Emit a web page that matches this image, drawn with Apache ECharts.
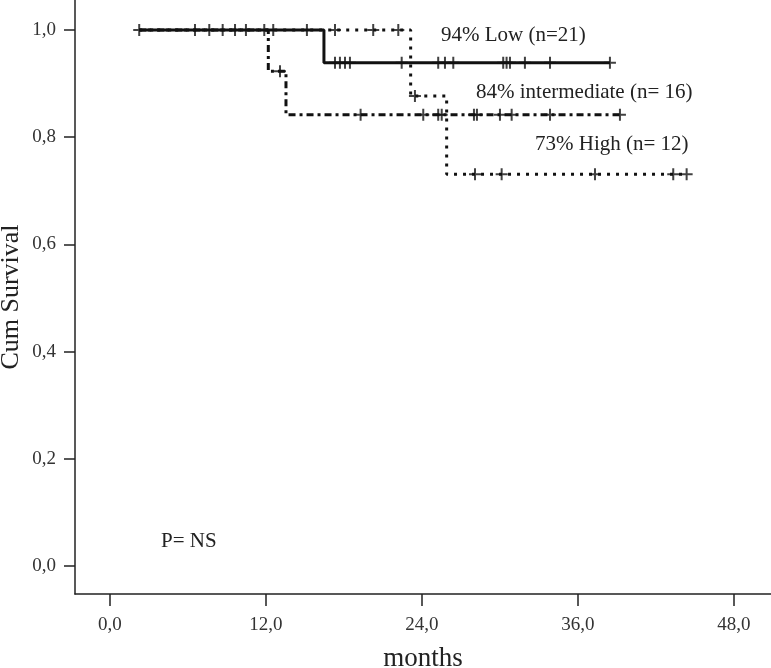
<!DOCTYPE html>
<html>
<head>
<meta charset="utf-8">
<script src="https://cdn.jsdelivr.net/npm/echarts@6/dist/echarts.min.js"></script>
<style>
  html, body { margin: 0; padding: 0; background: #fff; }
  #chart { width: 771px; height: 668px; }
</style>
</head>
<body>
<div id="chart"></div>
<script>
// Kaplan-Meier curves (months / cum survival)
const xTicks = [0, 12, 24, 36, 48]
const yTicks = [0, 0.2, 0.4, 0.6, 0.8, 1.0]

const lowStart = 2.25
const lowEnd = 38.46
const lowDrops = [16.46]
const lowLevels = [1, 0.939]
const lowCensored = [2.25, 6.54, 7.64, 8.67, 9.62, 10.46, 11.87, 12.56, 15.15,
  17.31, 17.69, 18.08, 18.46, 22.44, 25.25, 25.77, 26.41, 30.25, 30.51, 30.77, 31.92, 33.85, 38.46]

const midStart = 2.25
const midEnd = 39.23
const midDrops = [12.18, 13.54]
const midLevels = [1, 0.923, 0.842]
const midCensored = [13.08, 19.28, 24.1, 25.25, 25.52, 28.0, 28.23, 30.0, 30.9, 33.85, 39.23]

const highStart = 2.25
const highEnd = 44.36
const highDrops = [23.13, 25.9]
const highLevels = [1, 0.877, 0.731]
const highCensored = [17.31, 20.25, 22.18, 23.46, 28.08, 30.13, 37.31, 43.33, 44.36]

const notes = [
  { text: '94% Low (n=21)', x: 441, y: 36 },
  { text: '84% intermediate (n= 16)', x: 476, y: 93 },
  { text: '73% High (n= 12)', x: 535, y: 145 },
  { text: 'P= NS', x: 161, y: 542 }
]

const serif = "'Liberation Serif', 'DejaVu Serif', serif"
const plus = 'path://M10,0h4v24h-4zM0,10h24v4h-24z'

function stepLine(start, end, drops, levels) {
  const pts = [[start, levels[0]]]
  drops.forEach((t, i) => {
    pts.push([t, levels[i]])
    pts.push([t, levels[i + 1]])
  })
  pts.push([end, levels[levels.length - 1]])
  return pts
}

function censorPoints(times, drops, levels) {
  return times.map(t => {
    let k = 0
    drops.forEach(d => { if (d <= t) k++ })
    return [t, levels[k]]
  })
}

function commaFmt(v) {
  return v.toFixed(1).replace('.', ',')
}

const chart = echarts.init(document.getElementById('chart'))

chart.setOption({
  animation: false,
  backgroundColor: '#fff',
  grid: {
    left: 75,
    right: 0,
    top: 0,
    bottom: 74,
    containLabel: false,
    outerBoundsMode: 'none'
  },
  xAxis: {
    type: 'value',
    min: -2.69,
    max: 50.85,
    name: 'months',
    nameLocation: 'middle',
    nameGap: 51,
    nameMoveOverlap: false,
    nameTextStyle: { fontFamily: serif, fontSize: 27, color: '#222' },
    splitLine: { show: false },
    axisLine: { onZero: false, lineStyle: { color: '#222', width: 1.5 } },
    axisTick: { customValues: xTicks, length: 12, lineStyle: { color: '#222', width: 1.5 } },
    axisLabel: {
      customValues: xTicks,
      margin: 22,
      fontFamily: serif,
      fontSize: 19,
      color: '#333',
      formatter: commaFmt
    }
  },
  yAxis: {
    type: 'value',
    min: -0.0522,
    max: 1.056,
    name: 'Cum Survival',
    nameLocation: 'middle',
    nameGap: 51,
    nameMoveOverlap: false,
    nameTextStyle: { fontFamily: serif, fontSize: 26, color: '#222' },
    splitLine: { show: false },
    axisLine: { onZero: false, lineStyle: { color: '#222', width: 1.5 } },
    axisTick: { customValues: yTicks, length: 11, lineStyle: { color: '#222', width: 1.5 } },
    axisLabel: {
      customValues: yTicks,
      margin: 19,
      fontFamily: serif,
      fontSize: 19,
      color: '#333',
      formatter: commaFmt
    }
  },
  graphic: notes.map(n => ({
    type: 'text',
    left: n.x,
    top: n.y - 11,
    style: {
      text: n.text,
      font: '21px ' + serif,
      fill: '#222'
    }
  })),
  series: [
    {
      name: 'High',
      type: 'line',
      z: 2,
      symbol: 'none',
      data: stepLine(highStart, highEnd, highDrops, highLevels),
      lineStyle: { color: '#111', width: 3, type: [3, 6] }
    },
    {
      name: 'High censored',
      type: 'scatter',
      z: 2,
      symbol: plus,
      symbolSize: 12,
      itemStyle: { color: '#111' },
      data: censorPoints(highCensored, highDrops, highLevels)
    },
    {
      name: 'Intermediate',
      type: 'line',
      z: 3,
      symbol: 'none',
      data: stepLine(midStart, midEnd, midDrops, midLevels),
      lineStyle: { color: '#111', width: 3, type: [7, 4, 3, 4] }
    },
    {
      name: 'Intermediate censored',
      type: 'scatter',
      z: 3,
      symbol: plus,
      symbolSize: 12,
      itemStyle: { color: '#111' },
      data: censorPoints(midCensored, midDrops, midLevels)
    },
    {
      name: 'Low',
      type: 'line',
      z: 4,
      symbol: 'none',
      data: stepLine(lowStart, lowEnd, lowDrops, lowLevels),
      lineStyle: { color: '#111', width: 3 }
    },
    {
      name: 'Low censored',
      type: 'scatter',
      z: 4,
      symbol: plus,
      symbolSize: 12,
      itemStyle: { color: '#111' },
      data: censorPoints(lowCensored, lowDrops, lowLevels)
    }
  ]
})
</script>
</body>
</html>
